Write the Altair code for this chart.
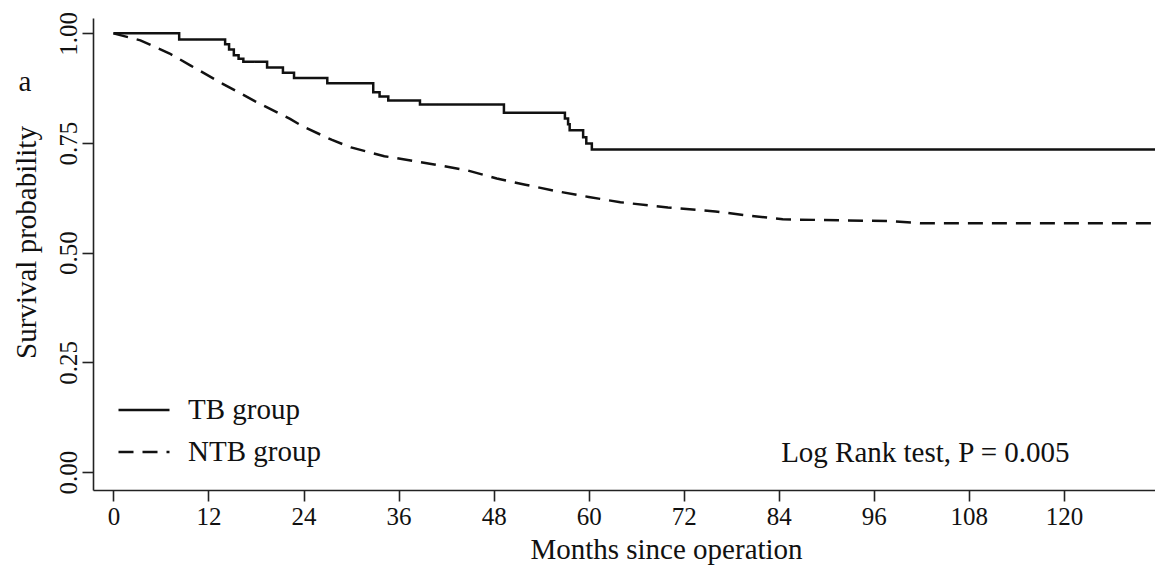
import altair as alt
import pandas as pd

# ---- data ----
tb_months = [0, 8.3, 14.1, 14.6, 15.2, 15.8, 16.4, 19.4, 21.4, 22.8, 27.0, 32.8, 33.6, 34.7,
             38.7, 49.3, 57.0, 57.4, 57.6, 59.3, 59.7, 60.4, 131.5]
tb_surv = [1.0, 0.986, 0.975, 0.963, 0.950, 0.942, 0.935, 0.922, 0.910, 0.898, 0.886, 0.866,
           0.856, 0.847, 0.838, 0.819, 0.806, 0.793, 0.779, 0.763, 0.749, 0.735, 0.735]

ntb_months = [0, 3.4, 7.1, 9.7, 13.8, 17.9, 22.3, 24.0, 27.6, 30.0, 34.2, 40.5, 44.6, 48.4,
              52, 56, 60, 64, 70, 76, 79.5, 84.5, 98, 102, 131.5]
ntb_surv = [1.0, 0.984, 0.954, 0.927, 0.885, 0.845, 0.805, 0.787, 0.757, 0.740, 0.720, 0.701,
            0.688, 0.669, 0.655, 0.640, 0.627, 0.615, 0.603, 0.594, 0.586, 0.576, 0.572, 0.567,
            0.567]

groups = ["TB group", "NTB group"]
x_ticks = [0, 12, 24, 36, 48, 60, 72, 84, 96, 108, 120]
y_ticks = [0, 0.25, 0.5, 0.75, 1.0]
annotation = "Log Rank test, P = 0.005"
annot_month = [102.5]
annot_surv = [0.043]

FONT = "Liberation Serif"
INK = "#111111"

tb_df = pd.DataFrame({"month": tb_months, "surv": tb_surv, "group": groups[0]})
ntb_df = pd.DataFrame({"month": ntb_months, "surv": ntb_surv, "group": groups[1]})
ann_df = pd.DataFrame({"month": annot_month, "surv": annot_surv, "label": [annotation]})

x_scale = alt.Scale(domain=[-2.58, 131.5], nice=False, zero=False)
y_scale = alt.Scale(domain=[-0.041, 1.035], nice=False, zero=False)

x_enc = alt.X("month:Q", scale=x_scale,
              axis=alt.Axis(values=x_ticks, title="Months since operation", grid=False,
                            labelFont=FONT, labelFontSize=25, labelColor=INK, labelFlush=False,
                            labelPadding=3, tickSize=11, tickWidth=1.6, tickColor="#222",
                            domainColor="#222", domainWidth=1.6,
                            titleFont=FONT, titleFontSize=29, titleFontWeight="normal",
                            titleColor=INK, titleX=573, titleY=68, titleAlign="center",
                            titleBaseline="alphabetic"))
y_enc = alt.Y("surv:Q", scale=y_scale,
              axis=alt.Axis(values=y_ticks, format=".2f", title="Survival probability", grid=False,
                            labelFont=FONT, labelFontSize=25, labelColor=INK, labelFlush=False,
                            labelAngle=270, labelAlign="center", labelBaseline="bottom",
                            labelPadding=1, tickSize=11, tickWidth=1.6, tickColor="#222",
                            domainColor="#222", domainWidth=1.6,
                            titleFont=FONT, titleFontSize=29, titleFontWeight="normal",
                            titleColor=INK, titleAngle=270, titleX=-67, titleY=224,
                            titleAlign="center", titleBaseline="middle"))

dash = alt.StrokeDash("group:N",
                      scale=alt.Scale(domain=groups, range=[[1, 0], [15, 9]]),
                      legend=alt.Legend(orient="none", legendX=24, legendY=365, title=None,
                                        symbolType="stroke", symbolSize=2601,
                                        symbolStrokeWidth=2.5, symbolStrokeColor=INK,
                                        labelFont=FONT, labelFontSize=29, labelColor=INK,
                                        labelOffset=17, rowPadding=-7, padding=0,
                                        symbolOffset=0, labelLimit=400))

tb_line = alt.Chart(tb_df).mark_line(interpolate="step-after", color=INK, strokeWidth=2.5,
                                     clip=True).encode(x=x_enc, y=y_enc, strokeDash=dash)
ntb_line = alt.Chart(ntb_df).mark_line(color=INK, strokeWidth=2.5, clip=True).encode(
    x=x_enc, y=y_enc, strokeDash=dash)

ann = alt.Chart(ann_df).mark_text(font=FONT, fontSize=29, color=INK, align="center",
                                  baseline="middle").encode(x="month:Q", y="surv:Q", text="label:N")

panel_label = alt.Chart(ann_df).mark_text(font=FONT, fontSize=29, color=INK, align="center",
                                          baseline="middle").encode(
    x=alt.value(-68), y=alt.value(64), text=alt.value("a"))

chart = alt.layer(tb_line, ntb_line, ann, panel_label).properties(
    width=1062, height=472,
    autosize=alt.AutoSizeParams(type="none"),
    padding={"left": 93, "top": 18, "right": 0, "bottom": 81},
    background="white",
).configure_view(stroke=None)

chart.save("out.html", embed_options={"renderer": "svg", "actions": False})
